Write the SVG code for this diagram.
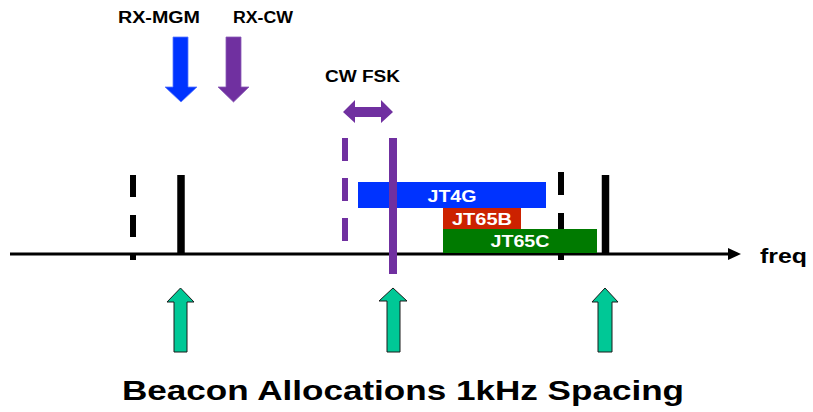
<svg xmlns="http://www.w3.org/2000/svg" width="813" height="412" viewBox="0 0 813 412">
  <style>
    .lbl { font-family: "Liberation Sans", Arial, sans-serif; font-weight: bold; fill: #000; }
    .band { font-family: "Liberation Sans", Arial, sans-serif; font-weight: bold; fill: #fff; font-size: 16px; text-anchor: middle; }
    .beacon { fill: #00c896; stroke: #1a1a1a; stroke-width: 1; }
  </style>
  <rect width="813" height="412" fill="#fff"/>

  <!-- frequency axis -->
  <g id="axis">
    <line x1="10" y1="254" x2="730" y2="254" stroke="#000" stroke-width="3"/>
    <polygon points="728,248 741,254 728,260" fill="#000"/>
    <text class="lbl" x="760" y="263" font-size="20" textLength="47" lengthAdjust="spacingAndGlyphs">freq</text>
  </g>

  <!-- markers on the axis -->
  <g id="connectors">
    <line x1="133" y1="175" x2="133" y2="260" stroke="#000" stroke-width="6" stroke-dasharray="22 18"/>
    <line x1="181" y1="175" x2="181" y2="255" stroke="#000" stroke-width="7.5"/>
    <line x1="561" y1="172" x2="561" y2="260" stroke="#000" stroke-width="6" stroke-dasharray="23 18"/>
    <line x1="605.5" y1="175" x2="605.5" y2="255" stroke="#000" stroke-width="7.5"/>
    <line x1="345" y1="138" x2="345" y2="242" stroke="#7030a0" stroke-width="6" stroke-dasharray="23 17"/>
  </g>

  <!-- mode bands -->
  <g id="jt4g">
    <rect x="358" y="182" width="188" height="26" fill="#0033ff"/>
    <text class="band" x="452" y="202" textLength="49" lengthAdjust="spacingAndGlyphs">JT4G</text>
  </g>
  <g id="jt65b">
    <rect x="443" y="208" width="78" height="21" fill="#cc2200"/>
    <text class="band" x="482" y="225" textLength="60" lengthAdjust="spacingAndGlyphs">JT65B</text>
  </g>
  <g id="jt65c">
    <rect x="443" y="229" width="154" height="24" fill="#007a00"/>
    <text class="band" x="520" y="247" textLength="59" lengthAdjust="spacingAndGlyphs">JT65C</text>
  </g>

  <!-- CW FSK carrier and shift -->
  <g id="cw-fsk">
    <line x1="393" y1="138" x2="393" y2="274" stroke="#7030a0" stroke-width="8"/>
    <polygon points="343,112 355,100 355,107 381,107 381,100 393,112 381,123 381,117 355,117 355,123" fill="#7030a0"/>
    <text class="lbl" x="325" y="82" font-size="16" textLength="75" lengthAdjust="spacingAndGlyphs">CW FSK</text>
  </g>

  <!-- receive markers -->
  <g id="rx-mgm">
    <polygon points="173,37 188,37 188,87 197,87 181,102 165,87 173,87" fill="#0033ff" stroke="#5a78ff" stroke-width="0.8"/>
    <text class="lbl" x="118" y="23" font-size="16" textLength="82" lengthAdjust="spacingAndGlyphs">RX-MGM</text>
  </g>
  <g id="rx-cw">
    <polygon points="226,37 241,37 241,87 249,87 233.5,102 218,87 226,87" fill="#7030a0" stroke="#8a5ab8" stroke-width="0.8"/>
    <text class="lbl" x="233" y="23" font-size="16" textLength="60" lengthAdjust="spacingAndGlyphs">RX-CW</text>
  </g>

  <!-- beacon positions -->
  <g id="beacon-1">
    <polygon class="beacon" points="180.5,288 194,302 187,302 187,352 174,352 174,302 167,302"/>
  </g>
  <g id="beacon-2">
    <polygon class="beacon" points="393,288 407,301 400,301 400,352 387,352 387,301 379,301"/>
  </g>
  <g id="beacon-3">
    <polygon class="beacon" points="605,288 618,302 612,302 612,352 598,352 598,302 592,302"/>
  </g>

  <g id="title">
    <text class="lbl" x="122" y="400" font-size="28.5" textLength="562" lengthAdjust="spacingAndGlyphs">Beacon Allocations 1kHz Spacing</text>
  </g>
</svg>
